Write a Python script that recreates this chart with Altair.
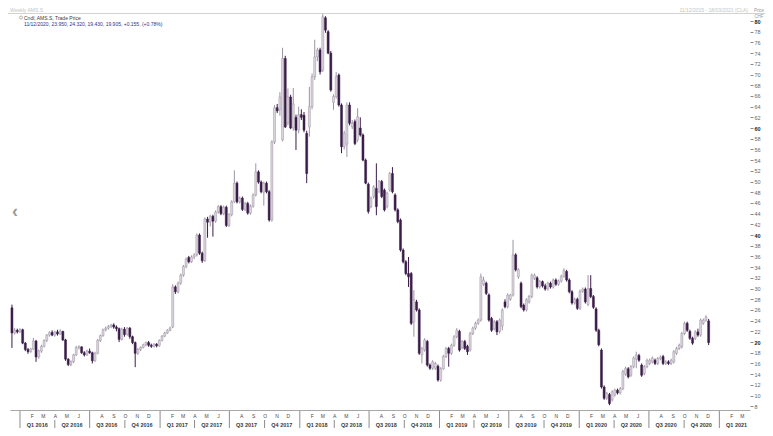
import altair as alt
import pandas as pd

# ---------------- weekly OHLC ----------------
opens = [
    26.4, 21.7, 22.2, 21.9, 22.3, 19.8, 18.6, 18.2, 18.7, 20.2,
    17.2, 18.3, 19.2, 20.3, 21.3, 21.8, 21.3, 21.9, 21.5, 22.0,
    20.4, 16.8, 15.8, 16.3, 17.6, 19.0, 19.1, 18.0, 17.6, 18.3,
    18.0, 16.5, 17.9, 20.3, 21.2, 22.3, 22.6, 22.9, 23.2, 22.8,
    22.5, 20.5, 22.4, 21.4, 22.6, 21.0, 19.9, 17.9, 18.6, 19.0,
    19.5, 19.9, 19.4, 19.2, 19.6, 19.3, 20.3, 21.1, 21.7, 22.2,
    22.8, 30.3, 29.4, 31.0, 32.5, 34.1, 35.8, 35.0, 35.9, 36.3,
    40.0, 36.6, 35.2, 43.0, 42.4, 43.5, 42.6, 44.3, 45.3, 44.0,
    45.2, 41.8, 43.8, 46.2, 49.7, 46.2, 46.9, 44.8, 45.9, 44.1,
    45.4, 47.5, 51.8, 49.9, 48.0, 49.7, 48.1, 42.8, 57.4, 63.8,
    63.4, 57.8, 73.0, 61.0, 65.8, 60.0, 62.0, 59.6, 62.5, 62.4,
    59.0, 60.2, 64.0, 69.6, 73.3, 74.6, 70.8, 80.6, 78.0, 74.0,
    64.8, 65.9, 69.9, 64.3, 56.5, 57.0, 64.3, 60.2, 61.2, 57.8,
    60.0, 58.7, 54.0, 49.5, 45.3, 47.2, 48.7, 48.1, 50.0, 48.4,
    45.3, 48.4, 51.5, 47.5, 44.7, 42.8, 37.2, 35.0, 32.8, 32.8,
    23.8, 27.5, 26.0, 17.6, 18.5, 20.1, 15.7, 15.1, 15.1, 15.5,
    12.9, 15.0, 17.3, 18.8, 17.9, 19.4, 21.0, 22.0, 19.0, 20.1,
    19.2, 18.5, 21.6, 22.6, 23.5, 24.1, 30.8, 31.0, 28.8, 24.4,
    22.5, 23.8, 22.0, 23.0, 27.5, 26.6, 28.0, 28.8, 36.3, 32.2,
    31.0, 26.9, 26.0, 27.5, 28.5, 31.9, 32.0, 30.3, 31.3, 30.5,
    29.9, 31.0, 30.3, 31.6, 30.8, 31.4, 32.3, 33.2, 31.6, 29.4,
    27.3, 28.0, 26.3, 29.5, 29.9, 27.0, 30.0, 28.5, 26.2, 22.2,
    18.5, 11.6, 9.5, 10.2, 9.2, 10.1, 11.0, 10.5, 11.3, 14.0,
    15.0, 13.8, 15.4, 16.8, 17.5, 15.7, 14.1, 15.4, 16.0, 16.3,
    16.6, 16.0, 16.9, 17.3, 16.0, 16.3, 16.0, 16.3, 17.9, 18.8,
    19.1, 21.6, 23.5, 22.0, 20.7, 20.7, 21.9, 21.3, 23.5, 24.1, 23.95,
]
highs = [
    27.0, 22.6, 22.5, 22.6, 22.5, 20.0, 18.9, 18.9, 20.8, 20.4,
    18.6, 19.5, 20.5, 21.5, 22.0, 22.2, 22.1, 22.3, 22.4, 22.1,
    20.6, 17.0, 16.6, 17.8, 19.3, 19.4, 19.2, 18.3, 18.6, 18.8,
    18.2, 18.2, 20.6, 21.4, 22.5, 22.9, 23.2, 23.4, 23.5, 23.1,
    22.7, 22.7, 22.8, 22.8, 22.8, 21.2, 20.1, 18.9, 19.2, 19.7,
    20.1, 20.2, 19.7, 19.8, 19.8, 20.5, 21.3, 21.9, 22.4, 22.9,
    30.8, 30.6, 31.3, 32.8, 34.4, 35.8, 36.1, 36.2, 36.6, 40.3,
    40.3, 36.9, 43.3, 43.4, 43.8, 43.8, 44.6, 45.6, 45.6, 45.5,
    45.5, 44.1, 46.5, 52.1, 50.0, 47.2, 47.2, 46.2, 46.2, 45.7,
    47.8, 53.4, 52.1, 50.2, 50.0, 50.0, 48.4, 57.7, 64.3, 64.5,
    66.7, 75.0, 73.5, 67.4, 66.2, 67.5, 62.5, 64.0, 63.5, 63.0,
    59.5, 67.7, 70.2, 76.5, 75.0, 75.0, 81.3, 80.9, 78.3, 74.4,
    66.3, 70.5, 70.2, 64.6, 59.5, 64.8, 64.8, 61.5, 61.6, 63.7,
    62.0, 59.0, 54.3, 49.8, 47.2, 49.3, 53.4, 50.3, 50.3, 48.7,
    48.1, 51.8, 52.7, 47.8, 45.0, 43.1, 37.5, 35.3, 35.9, 33.1,
    29.7, 27.9, 26.3, 19.1, 20.7, 20.4, 16.0, 16.6, 16.3, 15.8,
    15.3, 17.6, 19.1, 19.1, 19.7, 21.3, 22.6, 22.3, 20.4, 20.4,
    19.5, 21.9, 22.9, 23.8, 24.4, 32.8, 32.2, 31.3, 29.1, 24.7,
    24.1, 24.1, 24.4, 26.3, 28.0, 29.1, 29.0, 39.1, 36.6, 33.8,
    31.3, 27.2, 28.2, 28.8, 32.8, 32.8, 32.3, 31.6, 31.5, 30.9,
    31.3, 31.3, 31.9, 31.9, 31.7, 32.6, 33.8, 33.5, 31.9, 29.7,
    28.3, 28.3, 29.8, 30.2, 30.2, 32.5, 32.5, 28.8, 26.5, 22.5,
    18.8, 11.9, 10.7, 10.5, 11.0, 11.3, 11.3, 11.6, 14.8, 15.4,
    15.3, 15.7, 17.3, 18.2, 17.8, 16.0, 15.7, 16.9, 16.9, 17.3,
    16.9, 17.2, 17.5, 17.6, 16.6, 16.6, 16.9, 18.5, 19.1, 19.7,
    21.9, 23.8, 23.8, 22.3, 21.0, 22.2, 22.5, 24.4, 24.4, 25.0, 24.32,
]
lows = [
    18.9, 21.4, 21.6, 21.7, 19.6, 18.3, 17.8, 18.0, 18.5, 16.3,
    16.9, 18.0, 19.0, 20.0, 21.0, 21.1, 21.0, 21.2, 21.3, 20.2,
    16.5, 15.5, 15.5, 16.1, 17.4, 18.6, 17.8, 17.3, 17.4, 17.8,
    16.0, 16.3, 17.7, 20.0, 21.0, 22.0, 22.3, 22.6, 22.5, 22.0,
    20.0, 20.3, 21.0, 21.2, 20.6, 19.6, 15.3, 17.6, 18.3, 18.8,
    19.2, 19.1, 18.9, 19.0, 19.0, 19.1, 20.1, 20.9, 21.5, 22.0,
    22.6, 29.0, 29.1, 30.7, 32.2, 33.8, 34.7, 34.8, 35.5, 36.0,
    36.3, 34.8, 35.0, 39.5, 41.6, 39.7, 42.3, 44.0, 43.7, 43.7,
    41.5, 41.5, 43.5, 46.0, 45.9, 45.9, 44.5, 44.5, 43.8, 43.8,
    45.1, 47.2, 49.6, 47.8, 45.5, 47.8, 42.5, 42.5, 57.0, 62.8,
    62.3, 57.5, 60.0, 60.5, 59.8, 59.5, 55.9, 59.0, 61.5, 59.2,
    49.7, 58.4, 63.5, 69.0, 72.5, 70.0, 70.5, 77.8, 73.8, 66.8,
    63.4, 65.5, 64.0, 55.3, 56.0, 54.6, 60.5, 59.8, 56.8, 57.4,
    58.4, 53.8, 49.5, 44.0, 45.0, 46.8, 43.7, 47.8, 46.9, 44.4,
    45.0, 48.1, 47.8, 44.4, 42.2, 36.9, 34.7, 32.5, 30.3, 23.2,
    21.0, 25.7, 17.6, 16.0, 18.2, 15.4, 14.8, 14.8, 14.8, 12.6,
    12.6, 14.8, 17.0, 15.4, 17.6, 19.1, 20.7, 18.2, 18.7, 18.5,
    17.6, 18.2, 21.3, 22.3, 23.2, 23.8, 30.5, 28.8, 23.8, 21.9,
    22.2, 21.3, 21.6, 22.2, 26.3, 26.3, 27.7, 28.5, 33.2, 31.8,
    26.3, 25.7, 25.7, 27.2, 28.2, 31.6, 30.0, 30.0, 30.2, 29.6,
    29.6, 30.0, 30.0, 30.5, 30.5, 31.1, 32.0, 31.3, 29.1, 27.0,
    27.0, 26.0, 26.0, 29.2, 27.2, 26.7, 28.2, 26.2, 21.9, 19.2,
    11.3, 9.2, 9.2, 8.2, 8.9, 9.8, 10.2, 10.2, 11.0, 13.7,
    13.2, 13.5, 15.1, 15.1, 16.3, 13.5, 13.8, 15.1, 15.7, 16.0,
    15.7, 15.7, 16.6, 15.7, 15.7, 15.7, 15.7, 16.0, 17.6, 18.5,
    18.8, 21.3, 21.9, 20.4, 19.5, 20.4, 21.0, 21.0, 23.2, 23.8, 19.43,
]
closes = [
    21.7, 22.2, 21.9, 22.3, 19.8, 18.6, 18.2, 18.7, 20.2, 17.2,
    18.3, 19.2, 20.3, 21.3, 21.8, 21.3, 21.9, 21.5, 22.0, 20.4,
    16.8, 15.8, 16.3, 17.6, 19.0, 19.1, 18.0, 17.6, 18.3, 18.0,
    16.5, 17.9, 20.3, 21.2, 22.3, 22.6, 22.9, 23.2, 22.8, 22.5,
    20.5, 22.4, 21.4, 22.6, 21.0, 19.9, 17.9, 18.6, 19.0, 19.5,
    19.9, 19.4, 19.2, 19.6, 19.3, 20.3, 21.1, 21.7, 22.2, 22.6,
    30.3, 29.4, 31.0, 32.5, 34.1, 35.5, 35.0, 35.9, 36.3, 40.0,
    36.6, 35.2, 43.0, 42.4, 43.5, 42.6, 44.3, 45.3, 44.0, 45.2,
    41.8, 43.8, 46.2, 49.7, 46.2, 46.9, 44.8, 45.9, 44.1, 45.4,
    47.5, 51.8, 49.9, 48.1, 49.7, 48.1, 42.8, 57.4, 63.8, 63.2,
    65.8, 73.0, 60.2, 65.8, 60.0, 64.5, 59.6, 62.5, 62.0, 59.6,
    51.5, 64.0, 69.6, 73.3, 74.6, 70.5, 80.8, 78.3, 74.0, 67.1,
    65.9, 69.6, 64.3, 56.5, 59.0, 64.3, 60.9, 60.9, 57.1, 62.1,
    58.7, 54.0, 49.7, 44.4, 46.9, 49.0, 45.3, 50.0, 47.2, 44.7,
    47.8, 51.5, 48.1, 44.7, 42.5, 37.2, 35.0, 32.8, 32.2, 23.5,
    27.9, 26.0, 17.9, 18.8, 20.4, 15.7, 15.1, 16.3, 16.0, 12.9,
    15.0, 17.3, 18.8, 17.9, 19.4, 21.0, 22.2, 18.5, 20.1, 18.8,
    18.2, 21.6, 22.6, 23.5, 24.1, 32.2, 31.6, 29.1, 24.1, 22.2,
    23.8, 21.9, 24.1, 26.0, 26.6, 28.8, 28.8, 36.3, 33.5, 33.5,
    26.6, 26.0, 27.9, 28.5, 32.5, 32.5, 30.3, 31.3, 30.5, 29.9,
    31.0, 30.3, 31.6, 30.8, 31.4, 32.3, 33.4, 31.6, 29.4, 27.3,
    28.0, 26.3, 29.5, 29.9, 27.5, 30.0, 28.5, 26.5, 22.2, 19.5,
    11.6, 9.5, 10.4, 8.5, 10.7, 11.0, 10.5, 11.3, 14.5, 15.1,
    13.5, 15.4, 17.0, 17.6, 16.6, 13.8, 15.4, 16.6, 16.6, 17.0,
    16.0, 16.9, 17.2, 16.0, 16.3, 16.0, 16.6, 18.2, 18.8, 19.4,
    21.6, 23.5, 22.2, 20.7, 19.8, 21.9, 21.3, 24.1, 24.1, 24.7, 19.905,
]
first_week = "2015-12-11"

quarter_labels = [
    "Q1 2016", "Q2 2016", "Q3 2016", "Q4 2016",
    "Q1 2017", "Q2 2017", "Q3 2017", "Q4 2017",
    "Q1 2018", "Q2 2018", "Q3 2018", "Q4 2018",
    "Q1 2019", "Q2 2019", "Q3 2019", "Q4 2019",
    "Q1 2020", "Q2 2020", "Q3 2020", "Q4 2020",
    "Q1 2021",
]
price_ticks = list(range(8, 81, 2))

title_text = "Cndl, AMS.S, Trade Price"
ohlc_text = "11/12/2020, 23.950, 24.320, 19.430, 19.905, +0.155, (+0.78%)"
corner_left = "Weekly AMS.S"
corner_right = "11/12/2015 - 18/03/2021 (CLA)"

# ---------------- tables ----------------
df = pd.DataFrame({"open": opens, "high": highs, "low": lows, "close": closes})
df["date"] = pd.date_range(first_week, periods=len(closes), freq="7D").strftime("%Y-%m-%d")
df["dir"] = ["up" if c >= o else "down" for o, c in zip(opens, closes)]

qstarts = pd.date_range("2016-01-01", periods=len(quarter_labels), freq="QS")
qdf = pd.DataFrame({"date": (qstarts + pd.Timedelta(days=45)).strftime("%Y-%m-%d"),
                    "label": quarter_labels})
sep_q = pd.DataFrame({"date": qstarts.strftime("%Y-%m-%d")})
sep_h = pd.DataFrame({"date": [d.strftime("%Y-%m-%d") for d in qstarts if d.month in (1, 7)]})

month_vals = [alt.DateTime(year=d.year, month=d.month, date=1)
              for d in pd.date_range("2016-01-01", "2021-03-01", freq="MS")]

FONT = "Liberation Sans"
UP_FILL, UP_LINE, DOWN = "#dcd6df", "#9c94a2", "#3b1c49"

xaxis = alt.Axis(
    values=month_vals,
    labelExpr="(month(datum.value) == 0 || month(datum.value) == 6) ? '' : "
              "slice(timeFormat(datum.value, '%b'), 0, 1)",
    tickSize=0, labelPadding=3, labelFontSize=5, labelFont=FONT, labelColor="#4a4a4a",
    domainColor="#a8a8a8", grid=False, title=None, labelOverlap=False,
    labelFlush=False, labelBound=False,
)
xenc = alt.X(
    "date:T",
    scale=alt.Scale(domain=[alt.DateTime(year=2015, month=12, date=19),
                            alt.DateTime(year=2021, month=3, date=9)]),
    axis=xaxis,
)
yscale = alt.Scale(domain=[7.3, 82.06], nice=False, zero=False)
yaxis = alt.Axis(
    orient="right", values=price_ticks, tickSize=3, tickColor="#8a8a8a",
    labelPadding=1, labelFontSize=5.5, labelFont=FONT,
    labelColor={"condition": {"test": "datum.value % 20 == 0", "value": "#222222"},
                "value": "#666666"},
    labelFontWeight={"condition": {"test": "datum.value % 20 == 0", "value": "bold"},
                     "value": "normal"},
    domain=False, grid=False, title=None, labelOverlap=False,
)

wick = alt.Chart(df).mark_rule(strokeWidth=1).encode(
    x=xenc,
    y=alt.Y("low:Q", scale=yscale, axis=yaxis),
    y2="high:Q",
    color=alt.Color("dir:N", scale=alt.Scale(domain=["up", "down"], range=[UP_LINE, DOWN]),
                    legend=None),
)
body = alt.Chart(df).mark_bar(size=2, strokeWidth=0.5).encode(
    x=xenc,
    y=alt.Y("open:Q", scale=yscale, axis=yaxis),
    y2="close:Q",
    fill=alt.Fill("dir:N", scale=alt.Scale(domain=["up", "down"], range=[UP_FILL, DOWN]),
                  legend=None),
    stroke=alt.Stroke("dir:N", scale=alt.Scale(domain=["up", "down"], range=[UP_LINE, DOWN]),
                      legend=None),
)

qtext = alt.Chart(qdf).mark_text(
    fontSize=5.5, fontWeight="bold", font=FONT, color="#3a3a3a", baseline="middle"
).encode(x=xenc, y=alt.value(415), text="label:N")

sep_quarter = alt.Chart(sep_q).mark_rule(color="#8c8c8c", strokeWidth=1).encode(
    x=xenc, y=alt.value(410), y2=alt.value(419))
sep_half = alt.Chart(sep_h).mark_rule(color="#8c8c8c", strokeWidth=1).encode(
    x=xenc, y=alt.value(401), y2=alt.value(410))


def label(text, x, y, **kw):
    return alt.Chart(pd.DataFrame({"t": [text]})).mark_text(font=FONT, **kw).encode(
        text="t:N", x=alt.value(x), y=alt.value(y))


top_line = alt.Chart(pd.DataFrame({"t": [0]})).mark_rule(color="#d2d2d2", strokeWidth=1).encode(
    x=alt.value(-2), x2=alt.value(755), y=alt.value(3.5))
icon = alt.Chart(pd.DataFrame({"t": [0]})).mark_point(
    shape="circle", size=9, filled=False, color="#777777", strokeWidth=0.8
).encode(x=alt.value(11), y=alt.value(7.5))

layers = [
    wick, body, qtext, sep_quarter, sep_half, top_line, icon,
    label(corner_left, 0, 2, fontSize=5, color="#c4c4c4", align="left", baseline="alphabetic"),
    label(corner_right, 738, 2, fontSize=5, color="#c4c4c4", align="right", baseline="alphabetic"),
    label(title_text, 14, 9.5, fontSize=5, color="#3a3a3a", align="left", baseline="alphabetic"),
    label(ohlc_text, 14, 15.5, fontSize=5, color="#2b3190", align="left", baseline="alphabetic"),
    label("Price", 749, 2, fontSize=4.5, color="#9a9a9a", align="center", baseline="alphabetic"),
    label("CHF", 749, 8, fontSize=4.5, color="#9a9a9a", align="center", baseline="alphabetic"),
    label("\u2039", 2, 202, fontSize=18, color="#9a9a9a", align="left", baseline="middle",
          fontWeight="bold"),
]

chart = alt.layer(*layers).properties(
    width=740, height=400,
    padding={"left": 2, "top": 2, "right": 15, "bottom": 18},
    autosize=alt.AutoSizeParams(type="none"),
    background="white",
).configure_view(strokeWidth=0)

chart.save("out.html", embed_options={"renderer": "svg", "actions": False})
